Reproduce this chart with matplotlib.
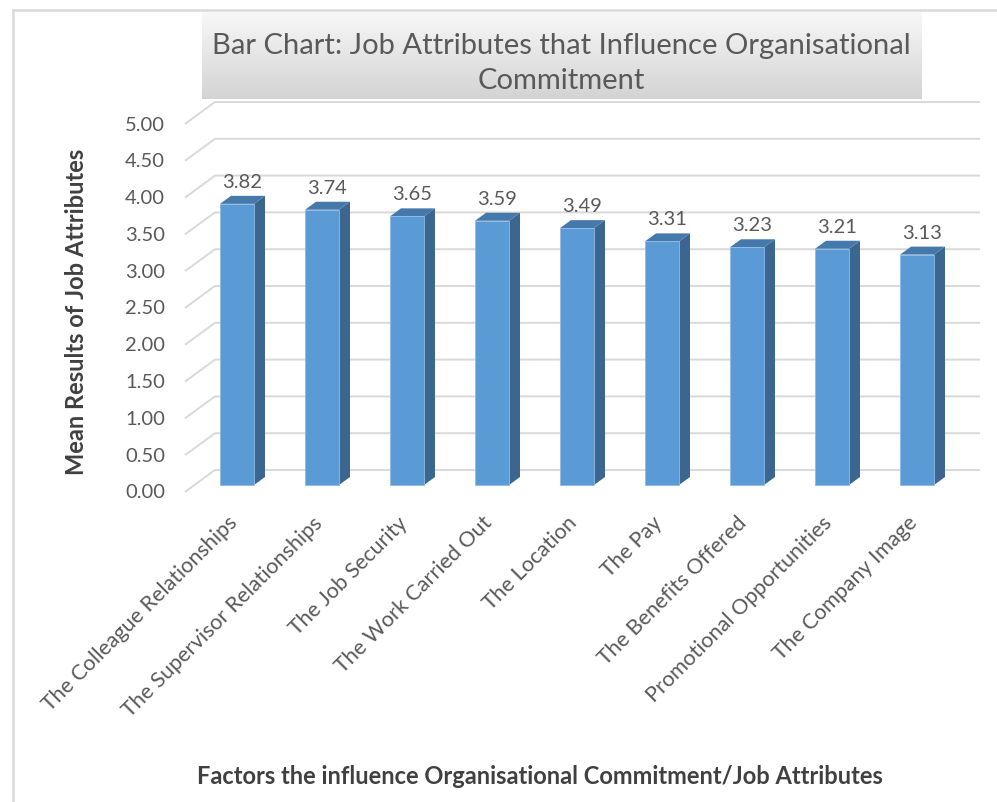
import numpy as np
import matplotlib.pyplot as plt
from matplotlib.patches import Polygon

categories = [
    "The Colleague Relationships",
    "The Supervisor Relationships",
    "The Job Security",
    "The Work Carried Out",
    "The Location",
    "The Pay",
    "The Benefits Offered",
    "Promotional Opportunities",
    "The Company Image",
]
means = [3.82, 3.74, 3.65, 3.59, 3.49, 3.31, 3.23, 3.21, 3.13]
yticks = [0.0, 0.5, 1.0, 1.5, 2.0, 2.5, 3.0, 3.5, 4.0, 4.5, 5.0]

title = "Bar Chart: Job Attributes that Influence Organisational\nCommitment"
ylabel = "Mean Results of Job Attributes"
xlabel = "Factors the influence Organisational Commitment/Job Attributes"

plt.rcParams["font.family"] = ["Lato", "DejaVu Sans"]
text_col = "#595959"
grid_col = "#d9d9d9"
front_col = "#5b9bd5"
side_col = "#3a6690"
top_col = "#4679ab"

W, H = 997, 803
fig = plt.figure(figsize=(W / 100, H / 100), dpi=100)

# pixel scale of the bar plane (x: per category, y: per unit value)
px_x, px_y = 85.0, 73.6
x0_px, y0_px = 237.0, 486.0

# axes box in pixels
ax_l, ax_r, ax_t, ax_b = 100, 990, 90, 560
ax = fig.add_axes([ax_l / W, 1 - ax_b / H, (ax_r - ax_l) / W, (ax_b - ax_t) / H])
ax.set_xlim((ax_l - x0_px) / px_x, (ax_r - x0_px) / px_x)
ax.set_ylim((y0_px - ax_b) / px_y, (y0_px - ax_t) / px_y)
ax.axis("off")

# depth offsets: front wall edge, back wall, bar depth
dxf, dyf = -9.5 / px_x, -7 / px_y
dxb, dyb = 20.5 / px_x, 15 / px_y
dxd, dyd = 11 / px_x, 8 / px_y

n = len(categories)
xs = np.arange(n)
left, right = -0.5, n - 0.5

# gridlines on the side and back walls
for v in yticks:
    ax.plot([left + dxf, left + dxb, right + dxb], [v + dyf, v + dyb, v + dyb],
            color=grid_col, lw=1.4, zorder=1, solid_capstyle="butt", clip_on=False)
    ax.text(left + dxf - 20 / px_x, v + dyf, f"{v:.2f}", ha="right", va="center",
            fontsize=14.5, color=text_col)

# bars
bw = 0.4
ax.bar(xs, means, width=bw, color=front_col, edgecolor="#8fbbe6", linewidth=0.6, zorder=3)
for x, v in zip(xs, means):
    side = [(x + bw / 2, 0), (x + bw / 2 + dxd, dyd), (x + bw / 2 + dxd, v + dyd), (x + bw / 2, v)]
    top = [(x - bw / 2, v), (x + bw / 2, v), (x + bw / 2 + dxd, v + dyd), (x - bw / 2 + dxd, v + dyd)]
    ax.add_patch(Polygon(side, closed=True, facecolor=side_col, edgecolor="none", zorder=2.9))
    ax.add_patch(Polygon(top, closed=True, facecolor=top_col, edgecolor="none", zorder=2.9))
    ax.text(x + dxd / 2, v + dyd + 9 / px_y, f"{v:.2f}", ha="center", va="baseline",
            fontsize=14.5, color=text_col)

# category labels
for x, lab in zip(xs, categories):
    ax.text(x - 3 / px_x, -34 / px_y, lab, rotation=45, rotation_mode="anchor",
            ha="right", va="center", fontsize=15.5, color=text_col)

# outer frame lines
fig.add_artist(plt.Line2D([13 / W, 13 / W], [0, 1 - 11 / H], color=grid_col, lw=1.8))
fig.add_artist(plt.Line2D([13 / W, 1], [1 - 11 / H, 1 - 11 / H], color=grid_col, lw=1.8))

# title box with gradient fill
tb_l, tb_r, tb_t, tb_b = 202, 921, 13, 100
tax = fig.add_axes([tb_l / W, 1 - tb_b / H, (tb_r - tb_l) / W, (tb_b - tb_t) / H])
grad = np.linspace(0.97, 0.83, 100).reshape(-1, 1)
tax.imshow(np.dstack([grad, grad, grad]), aspect="auto", extent=[0, 1, 0, 1], origin="upper")
tax.set_xlim(0, 1)
tax.set_ylim(0, 1)
tax.axis("off")
tax.text(0.5, 0.42, title, ha="center", va="center", fontsize=21, color=text_col,
         linespacing=1.4)

fig.text(76 / W, 1 - 312 / H, ylabel, rotation=90, ha="center", va="center",
         fontsize=17, fontweight="bold", color="#404040")
fig.text(540 / W, 1 - 777 / H, xlabel, ha="center", va="center",
         fontsize=17, fontweight="bold", color="#404040")

fig.savefig("out.png", dpi=100)
